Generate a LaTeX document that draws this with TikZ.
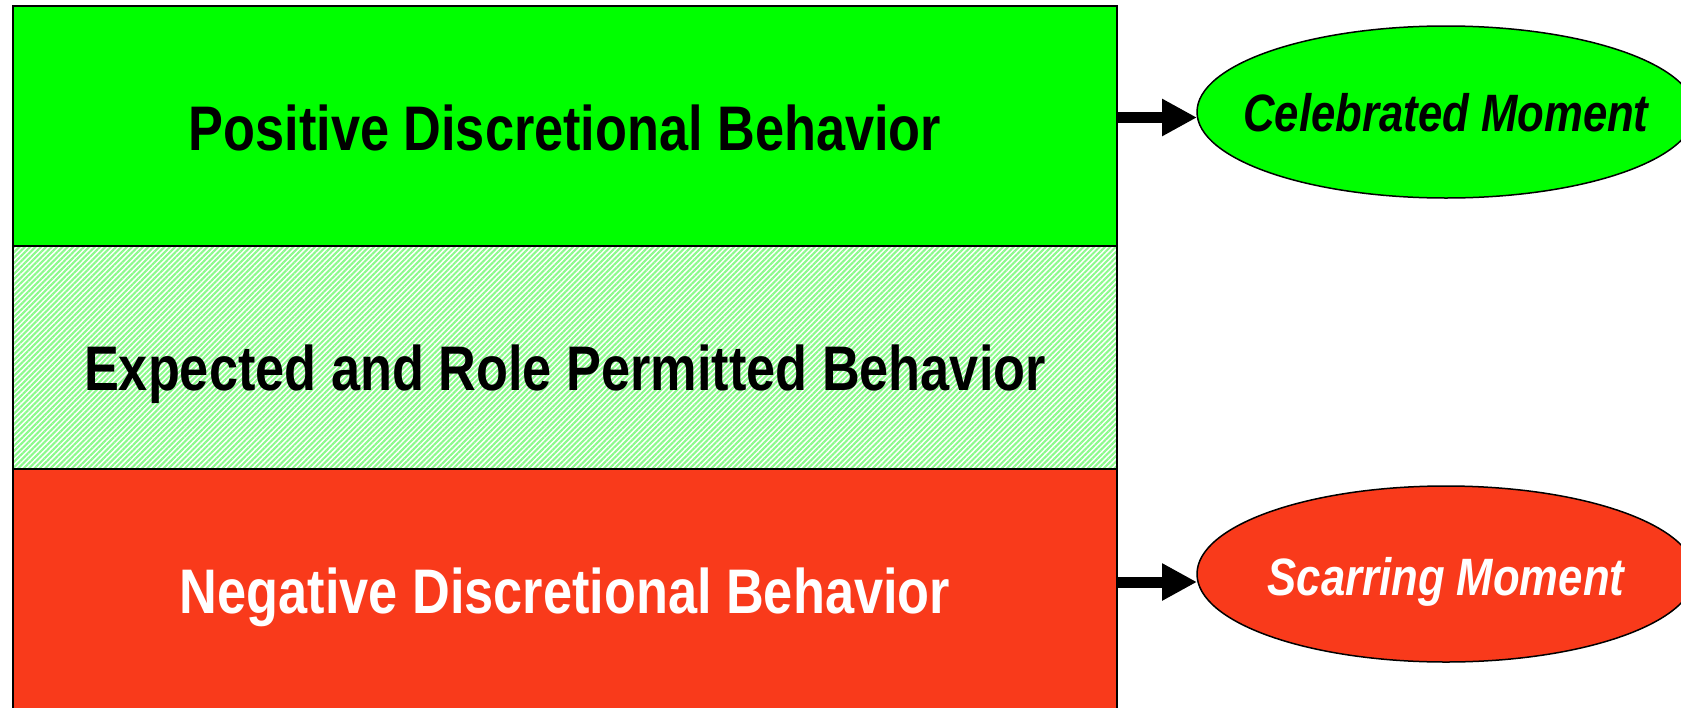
\documentclass[tikz,border=0pt]{standalone}
\usepackage{fontspec}
\newfontfamily\narrowsans[FakeStretch=0.83]{Liberation Sans}
\usetikzlibrary{arrows.meta,shapes.geometric,patterns.meta}
\definecolor{brightgreen}{RGB}{0,255,0}
\definecolor{hatchgreen}{RGB}{140,250,140}
\definecolor{scarred}{RGB}{249,58,27}
\begin{document}
\begin{tikzpicture}[x=1pt,y=-1pt,
  band/.style={rectangle,draw=black,line width=2pt,minimum width=1104pt,inner sep=0pt,outer sep=0pt},
  bandtext/.style={font=\narrowsans\bfseries\fontsize{63}{70}\selectfont,anchor=base,inner sep=0pt},
  moment/.style={ellipse,draw=black,line width=1.5pt,minimum width=498pt,inner sep=0pt,outer sep=0pt},
  momenttext/.style={font=\narrowsans\bfseries\itshape\fontsize{52.6}{60}\selectfont,anchor=base,inner sep=0pt},
  fatarrow/.style={line width=11pt,-{Triangle[length=35pt,width=35pt]}}]
\clip (0,0) rectangle (1681,707);
% bands
\node[band,minimum height=223.3pt,pattern={Lines[angle=45,distance=3.8pt,line width=2.1pt]},pattern color=hatchgreen] (mid) at (565,357.35) {};
\node[band,minimum height=239.7pt,fill=brightgreen] (pos) at (565,125.85) {};
\node[band,minimum height=251pt,fill=scarred] (neg) at (565,594.5) {};
\node[bandtext] (postext) at (565,150) {Positive Discretional Behavior};
\node[bandtext] (midtext) at (565,390) {Expected and Role Permitted Behavior};
\node[bandtext,text=white] (negtext) at (565,613) {Negative Discretional Behavior};
% moments
\node[moment,minimum height=172pt,fill=brightgreen] (cel) at (1446,112) {};
\node[moment,minimum height=176pt,fill=scarred] (scar) at (1446,574) {};
\node[momenttext] (celtext) at (1446,131) {Celebrated Moment};
\node[momenttext,text=white] (scartext) at (1446,595) {Scarring Moment};
% arrows
\coordinate (a1) at (pos.east |- 0,117.5);
\coordinate (a2) at (neg.east |- 0,582);
\draw[fatarrow] (a1) -- (cel.west |- a1);
\draw[fatarrow] (a2) -- (scar.west |- a2);
\end{tikzpicture}
\end{document}
